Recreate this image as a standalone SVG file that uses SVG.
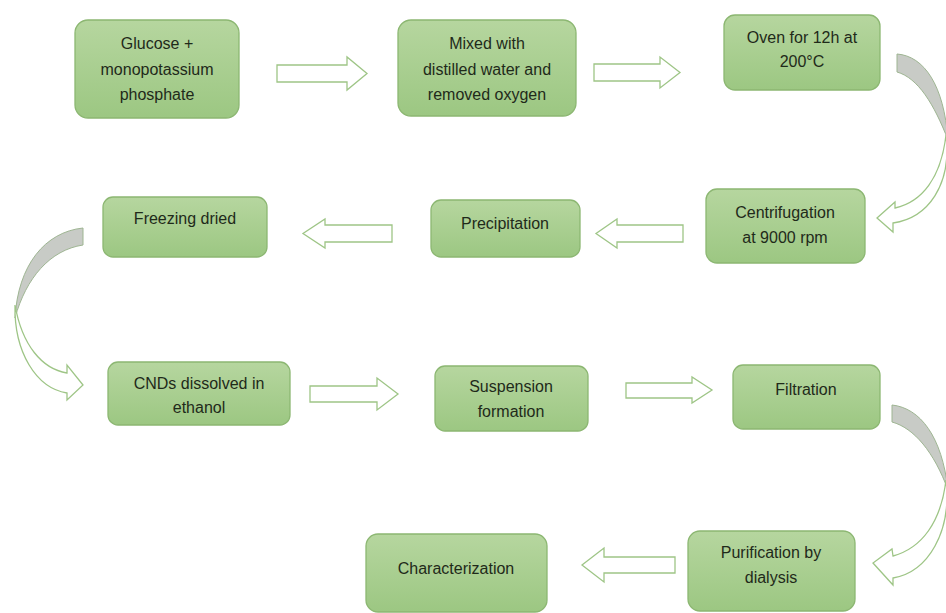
<svg xmlns="http://www.w3.org/2000/svg" width="946" height="613" viewBox="0 0 946 613">
<defs>
<linearGradient id="g" x1="0" y1="0" x2="0" y2="1">
<stop offset="0" stop-color="#b6d69f"/>
<stop offset="1" stop-color="#9cc782"/>
</linearGradient>
<style>
.box{fill:url(#g);stroke:#8cb772;stroke-width:1.3}
.t{font-family:"Liberation Sans",Arial,sans-serif;font-size:16px;fill:#1f2a1a;text-anchor:middle}
.ba{fill:#fff;stroke:#9ec586;stroke-width:1.3}
.gr{fill:#c8cbc6;stroke:#9eb592;stroke-width:1}
</style>
</defs>
<rect width="946" height="613" fill="#fff"/>
<g id="n1"><rect class="box" x="75" y="20" width="164" height="98" rx="13"/><text class="t" x="157" y="49">Glucose +</text><text class="t" x="157" y="75">monopotassium</text><text class="t" x="157" y="100">phosphate</text></g>
<g id="n2"><rect class="box" x="398" y="20" width="178" height="96" rx="13"/><text class="t" x="487" y="49">Mixed with</text><text class="t" x="487" y="75">distilled water and</text><text class="t" x="487" y="100">removed oxygen</text></g>
<g id="n3"><rect class="box" x="724" y="15" width="156" height="75" rx="11"/><text class="t" x="802" y="43">Oven for 12h at</text><text class="t" x="802" y="67">200°C</text></g>
<g id="n4"><rect class="box" x="706" y="189" width="159" height="74" rx="11"/><text class="t" x="785" y="218">Centrifugation</text><text class="t" x="785" y="243">at 9000 rpm</text></g>
<g id="n5"><rect class="box" x="431" y="200" width="149" height="57" rx="10"/><text class="t" x="505" y="229">Precipitation</text></g>
<g id="n6"><rect class="box" x="103" y="197" width="164" height="60" rx="10"/><text class="t" x="185" y="224">Freezing dried</text></g>
<g id="n7"><rect class="box" x="108" y="362" width="182" height="63" rx="10"/><text class="t" x="199" y="389">CNDs dissolved in</text><text class="t" x="199" y="413">ethanol</text></g>
<g id="n8"><rect class="box" x="435" y="366" width="153" height="65" rx="10"/><text class="t" x="511" y="392">Suspension</text><text class="t" x="511" y="417">formation</text></g>
<g id="n9"><rect class="box" x="733" y="365" width="147" height="64" rx="10"/><text class="t" x="806" y="395">Filtration</text></g>
<g id="n10"><rect class="box" x="688" y="531" width="167" height="80" rx="12"/><text class="t" x="771" y="558">Purification by</text><text class="t" x="771" y="583">dialysis</text></g>
<g id="n11"><rect class="box" x="366" y="534" width="181" height="78" rx="12"/><text class="t" x="456" y="574">Characterization</text></g>
<g id="connectors">
<polygon class="ba" points="277,65 347,65 347,57 367,73.5 347,90 347,82 277,82"/>
<polygon class="ba" points="594,64 660,64 660,57 680,72.5 660,88 660,81 594,81"/>
<polygon class="ba" points="683,225 617,225 617,219 596,233.5 617,248 617,242 683,242"/>
<polygon class="ba" points="392,225 325,225 325,219 303,233.5 325,248 325,242 392,242"/>
<polygon class="ba" points="310,386 377,386 377,378 398,394 377,410 377,402 310,402"/>
<polygon class="ba" points="626,383 692,383 692,377 712,390 692,403 692,398 626,398"/>
<polygon class="ba" points="675,557 604,557 604,548 582,565 604,582 604,573 675,573"/>
<path class="gr" d="M897,54 C924,56 944,85 948,140 C934,104 918,78 897,72 Z"/>
<path class="ba" d="M946,135 C952,185 928,218 893,223 L893,232 L877,218 L895,202 L895,208 C922,202 941,178 946,135 Z"/>
<path class="gr" d="M83,228 C45,232 18,265 15,318 C26,278 50,250 83,245 Z"/>
<path class="ba" d="M15,305 C14,352 36,388 67,393 L67,400 L83,385 L67,365 L67,373 C42,369 22,345 15,305 Z"/>
<path class="gr" d="M892,405 C920,408 942,436 948,490 C934,452 914,428 892,422 Z"/>
<path class="ba" d="M946,480 C952,532 928,572 893,578 L893,585 L873,563 L892,549 L893,556 C922,548 941,522 946,480 Z"/>
</g>
</svg>
